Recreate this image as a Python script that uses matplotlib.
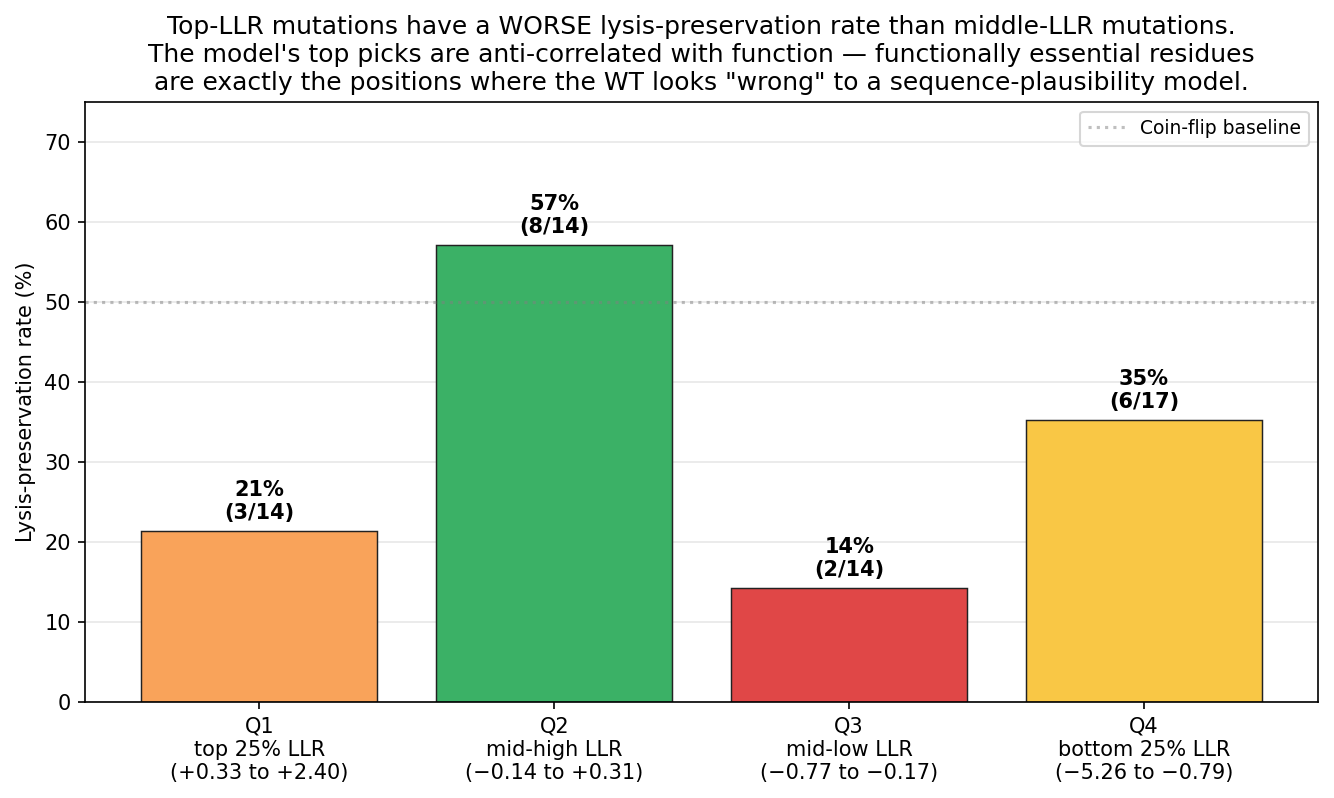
import matplotlib
matplotlib.use("Agg")
import matplotlib.pyplot as plt

# --- data ---
quartiles = ["Q1", "Q2", "Q3", "Q4"]
descs = ["top 25% LLR", "mid-high LLR", "mid-low LLR", "bottom 25% LLR"]
ranges = ["(+0.33 to +2.40)", "(\u22120.14 to +0.31)",
          "(\u22120.77 to \u22120.17)", "(\u22125.26 to \u22120.79)"]
preserved = [3, 8, 2, 6]
totals = [14, 14, 14, 17]
colors = ["#F9A35A", "#3BB166", "#E04747", "#F9C745"]

rates = [100 * p / t for p, t in zip(preserved, totals)]
xlabels = [f"{q}\n{d}\n{r}" for q, d, r in zip(quartiles, descs, ranges)]

fig, ax = plt.subplots(figsize=(1334 / 150, 798 / 150), dpi=150)
fig.subplots_adjust(left=0.064, right=0.988, top=0.872, bottom=0.120)

bars = ax.bar(range(len(rates)), rates, width=0.8, color=colors,
              edgecolor="#222222", linewidth=0.7)
ax.axhline(50, color="gray", linestyle=":", alpha=0.5, label="Coin-flip baseline")

for i, (r, p, t) in enumerate(zip(rates, preserved, totals)):
    ax.text(i, r + 1, f"{r:.0f}%\n({p}/{t})", ha="center", va="bottom",
            fontsize=10, fontweight="bold")

ax.set_xticks(range(len(rates)))
ax.set_xticklabels(xlabels, fontsize=10)
ax.set_ylim(0, 75)
ax.set_ylabel("Lysis-preservation rate (%)")
ax.yaxis.grid(True, alpha=0.3)
ax.set_axisbelow(True)
ax.legend(loc="upper right", fontsize=9)
ax.set_title("Top-LLR mutations have a WORSE lysis-preservation rate than middle-LLR mutations.\n"
             "The model's top picks are anti-correlated with function \u2014 functionally essential residues\n"
             "are exactly the positions where the WT looks \"wrong\" to a sequence-plausibility model.",
             fontsize=12)

fig.savefig("out.png", dpi=150)
